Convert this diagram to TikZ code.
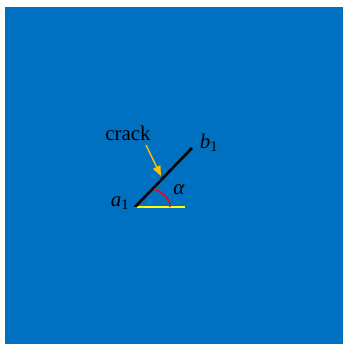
\documentclass[tikz,border=0pt]{standalone}
\usepackage{fontspec}
\setmainfont{Liberation Serif}
\usepackage{tikz}
\usetikzlibrary{arrows.meta, positioning}
\definecolor{plateblue}{RGB}{0, 112, 192}
\definecolor{arrowgold}{RGB}{255, 192, 0}
\definecolor{baseyellow}{RGB}{255, 255, 0}

\begin{document}
\begin{tikzpicture}[x=1pt,y=-1pt,
          lbl/.style={inner sep=0pt,font=\fontsize{21}{24}\selectfont},
          crackline/.style={line width=2.6pt},
          pointer/.style={-{Triangle[length=10pt,width=8pt]},line width=1.4pt,draw=arrowgold}]
        \useasboundingbox (0,0) rectangle (343,344);
        \fill[plateblue] (5,7) rectangle (343,344);
        \coordinate (a1) at (135,207);
        \coordinate (b1) at (192,148);
        \coordinate (base) at (185,207);
        \coordinate (arcstart) at (154,189);
        \coordinate (arcend) at (170,207);
        \coordinate (tail) at (146,145);
        \coordinate (tip) at (161,176);
        \draw[baseyellow,line width=1.3pt](a1)--(base);
        \draw[crackline](a1)--(b1);
        \draw[red,line width=1.4pt](arcstart) to[out=-25,in=90] (arcend);
        \node[lbl](crack) at (128,133){crack};
        \node[lbl](la) at (120,203){\textit{a}\textsubscript{1}};
        \node[lbl](lb) at (209,143){\textit{b}\textsubscript{1}};
        \node[lbl](lalpha) at (179,190){\textit{α}};
        \draw[pointer](tail)--(tip);
      \end{tikzpicture}
\end{document}
